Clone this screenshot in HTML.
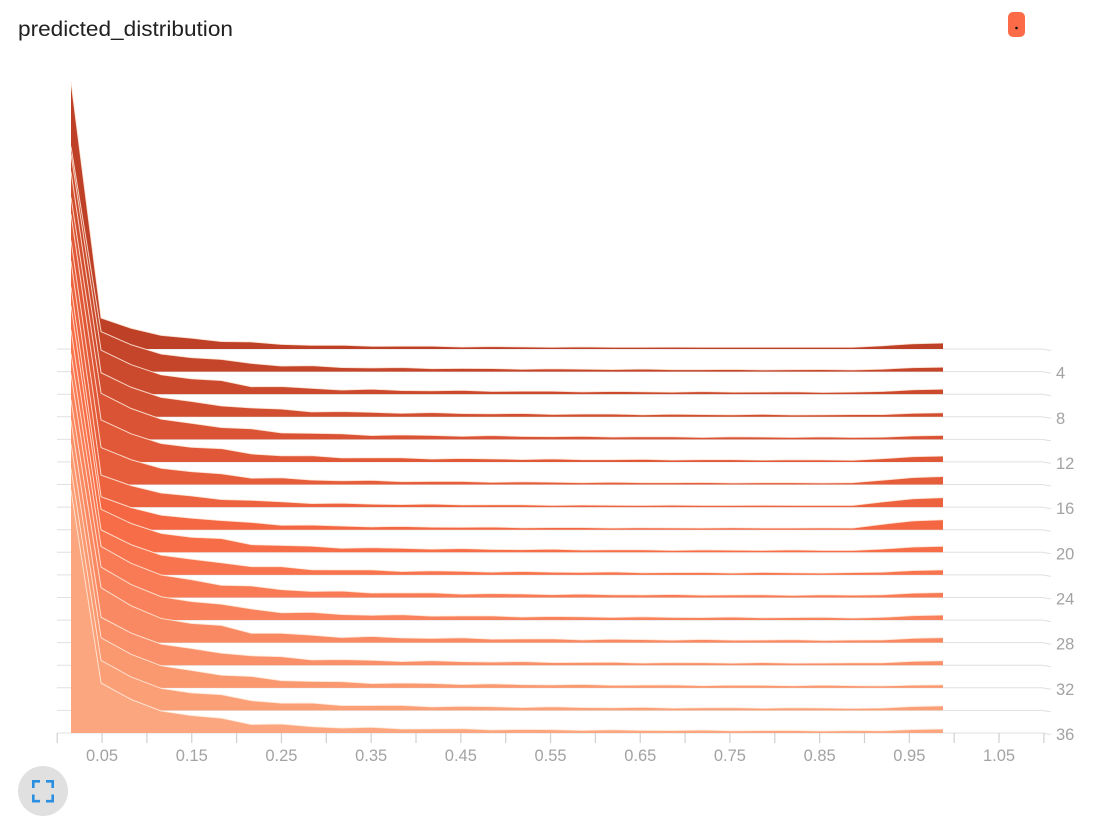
<!DOCTYPE html>
<html>
<head>
<meta charset="utf-8">
<style>
  html, body { margin:0; padding:0; background:#ffffff; }
  body { width:1107px; height:832px; overflow:hidden; }
  svg { display:block; }
  .t { font-family:"Liberation Sans", Arial, sans-serif; }
</style>
</head>
<body>
<svg id="svg" width="1107" height="832" viewBox="0 0 1107 832" xmlns="http://www.w3.org/2000/svg">
  <rect x="0" y="0" width="1107" height="832" fill="#ffffff"/>
  <!-- title -->
  <text class="t" x="18" y="36" font-size="21.5" fill="#212121" textLength="215" lengthAdjust="spacingAndGlyphs">predicted_distribution</text>
  <!-- legend swatch -->
  <rect x="1008" y="12" width="17" height="25" rx="5" ry="5" fill="#fb6b47"/>
  <circle cx="1016.5" cy="28" r="1.3" fill="#111"/>

  <!-- gray baselines -->
  <g fill="none" stroke="#e0e0e0" stroke-width="1">
    <polyline points="57,349 1042,349 1051,350.5"/>
    <polyline points="57,371.6 1042,371.6 1051,373.1"/>
    <polyline points="57,394.2 1042,394.2 1051,395.7"/>
    <polyline points="57,416.8 1042,416.8 1051,418.3"/>
    <polyline points="57,439.4 1042,439.4 1051,440.9"/>
    <polyline points="57,461.9 1042,461.9 1051,463.4"/>
    <polyline points="57,484.5 1042,484.5 1051,486"/>
    <polyline points="57,507.1 1042,507.1 1051,508.6"/>
    <polyline points="57,529.7 1042,529.7 1051,531.2"/>
    <polyline points="57,552.3 1042,552.3 1051,553.8"/>
    <polyline points="57,574.9 1042,574.9 1051,576.4"/>
    <polyline points="57,597.5 1042,597.5 1051,599"/>
    <polyline points="57,620.1 1042,620.1 1051,621.6"/>
    <polyline points="57,642.6 1042,642.6 1051,644.1"/>
    <polyline points="57,665.2 1042,665.2 1051,666.7"/>
    <polyline points="57,687.8 1042,687.8 1051,689.3"/>
    <polyline points="57,710.4 1042,710.4 1051,711.9"/>
    <polyline points="57,733 1042,733 1051,734.5"/>
  </g>

  <!-- x ticks -->
  <path fill="none" stroke="#d0d0d0" stroke-width="1.2"
    d="M57.2,733V743 M102.05,733V743 M146.9,733V743 M191.75,733V743 M236.6,733V743 M281.45,733V743 M326.3,733V743 M371.15,733V743 M416,733V743 M460.85,733V743 M505.7,733V743 M550.55,733V743 M595.4,733V743 M640.25,733V743 M685.1,733V743 M729.95,733V743 M774.8,733V743 M819.65,733V743 M864.5,733V743 M909.35,733V743 M954.2,733V743 M999.05,733V743 M1043.9,733V743"/>

  <!-- histograms -->
  <g id="hist"></g>

  <!-- x labels -->
  <g class="t" font-size="16.5" fill="#a3a3a3" text-anchor="middle">
    <text x="102.05" y="761">0.05</text>
    <text x="191.75" y="761">0.15</text>
    <text x="281.45" y="761">0.25</text>
    <text x="371.15" y="761">0.35</text>
    <text x="460.85" y="761">0.45</text>
    <text x="550.55" y="761">0.55</text>
    <text x="640.25" y="761">0.65</text>
    <text x="729.95" y="761">0.75</text>
    <text x="819.65" y="761">0.85</text>
    <text x="909.35" y="761">0.95</text>
    <text x="999.05" y="761">1.05</text>
  </g>
  <!-- y labels -->
  <g class="t" font-size="16.5" fill="#a3a3a3" text-anchor="start">
    <text x="1056" y="378.6">4</text>
    <text x="1056" y="423.8">8</text>
    <text x="1056" y="468.9">12</text>
    <text x="1056" y="514.1">16</text>
    <text x="1056" y="559.3">20</text>
    <text x="1056" y="604.5">24</text>
    <text x="1056" y="649.6">28</text>
    <text x="1056" y="694.8">32</text>
    <text x="1056" y="740">36</text>
  </g>

  <!-- fullscreen button -->
  <circle cx="43" cy="791" r="25" fill="#e0e0e0"/>
  <g fill="none" stroke="#2a8fe0" stroke-width="2.6" stroke-linecap="butt">
    <path d="M33.3,788 V781.3 H40"/>
    <path d="M46,781.3 H52.7 V788"/>
    <path d="M33.3,794.5 V801.2 H40"/>
    <path d="M46,801.2 H52.7 V794.5"/>
  </g>
</svg>
<script>
(function(){
  var NS = "http://www.w3.org/2000/svg";
  var g = document.getElementById("hist");
  var N = 18, K = 30;
  var peak = [267,225,240,245,242,248,244,246,243,247,245,244,246,243,245,244,242,243];
  var h1 = [31,40,44,44,46,42,37,32,33,43,45,51,53,55,48,50,50,50];
  var R  = [6,4.5,5,4,4,6,8,9.5,10,6,5,5,5,5,4.5,3,4.5,4];
  var r = [0,1,.67,.44,.35,.28,.2,.16,.13,.11,.1,.09,.084,.078,.072,.068,.064,.06,.058,.055,.053,.052,.05,.05,.048,.048,.046,0,0,0];
  var c0=[190,64,38], c1=[247,105,68], c2=[251,166,126];
  function col(t){
    var a,b,u;
    if(t<0.5){a=c0;b=c1;u=t/0.5;} else {a=c1;b=c2;u=(t-0.5)/0.5;}
    return "rgb("+Math.round(a[0]+(b[0]-a[0])*u)+","+Math.round(a[1]+(b[1]-a[1])*u)+","+Math.round(a[2]+(b[2]-a[2])*u)+")";
  }
  for(var i=0;i<N;i++){
    var base = 349 + i*(384/17);
    var pts = [];
    for(var k=0;k<K;k++){
      var x = 71 + k*(872/29);
      var h;
      if(k===0) h = peak[i];
      else if(k<=26){
        h = h1[i]*r[k];
        if(k>=5){ h *= (1 + 0.15*Math.sin(i*1.7 + k*2.3)); }
        if(h<1.7) h=1.7;
      } else {
        var f = (k===27)?0.55:((k===28)?0.88:1.0);
        h = Math.max(2, f*R[i]);
      }
      pts.push([x, base - h]);
    }
    var d = "M71," + base.toFixed(2);
    for(var j=0;j<pts.length;j++) d += " L" + pts[j][0].toFixed(2) + "," + pts[j][1].toFixed(2);
    d += " L943," + base.toFixed(2) + " Z";
    var p = document.createElementNS(NS,"path");
    p.setAttribute("d", d);
    p.setAttribute("fill", col(i/17));
    g.appendChild(p);
    var s = "M" + pts[0][0].toFixed(2) + "," + pts[0][1].toFixed(2);
    for(var j2=1;j2<pts.length;j2++) s += " L" + pts[j2][0].toFixed(2) + "," + pts[j2][1].toFixed(2);
    var q = document.createElementNS(NS,"path");
    q.setAttribute("d", s);
    q.setAttribute("fill","none");
    q.setAttribute("stroke","rgba(255,236,222,0.85)");
    q.setAttribute("stroke-width","1");
    g.appendChild(q);
  }
})();
</script>
</body>
</html>
